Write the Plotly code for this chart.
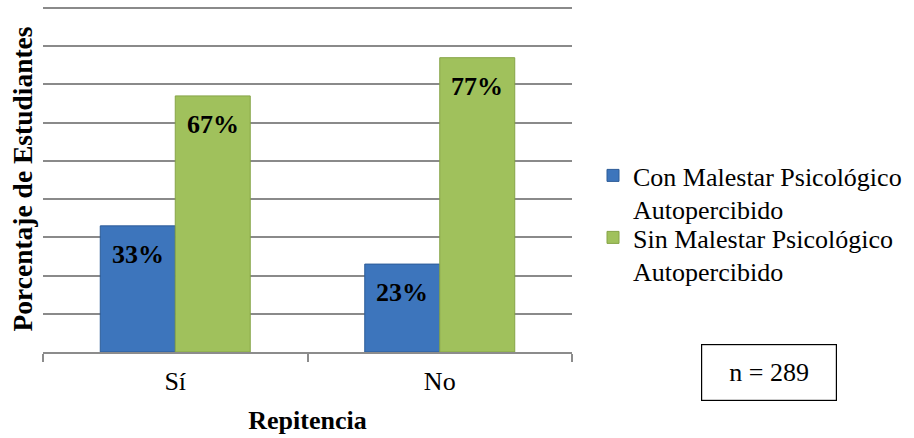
import plotly.graph_objects as go

categories = ["Sí", "No"]
con_malestar = [0.33, 0.23]
sin_malestar = [0.67, 0.77]
series_names = ["Con Malestar Psicológico<br>Autopercibido", "Sin Malestar Psicológico<br>Autopercibido"]
y_title = "Porcentaje de Estudiantes"
x_title = "Repitencia"
n_label = "n = 289"

FONT = "Liberation Serif, Times New Roman, serif"
W, H = 914, 438
ML, MR, MT, MB = 43, 342, 6, 86
plot_w = W - ML - MR
plot_h = H - MT - MB
px_per_unit = (352 - 8) / 0.9
y_top = plot_h / px_per_unit
bargap = 0.433
bar_px = (1 - bargap) * plot_w / len(categories) / 2

blue = "#3D75BC"
green = "#A0C15C"

fig = go.Figure()
fig.add_trace(go.Bar(x=categories, y=con_malestar, name=series_names[0],
                     marker=dict(color=blue, line=dict(color="#2D5C98", width=1)),
                     legend="legend"))
fig.add_trace(go.Bar(x=categories, y=sin_malestar, name=series_names[1],
                     marker=dict(color=green, line=dict(color="#86A447", width=1)),
                     legend="legend2"))

annotations = []
for vals, sign in ((con_malestar, -1), (sin_malestar, 1)):
    for c, v in zip(categories, vals):
        annotations.append(dict(x=c, y=v, xref="x", yref="y", text=f"<b>{round(v*100)}%</b>",
                                showarrow=False, xshift=sign * bar_px / 2, yanchor="top", yshift=-12,
                                font=dict(family=FONT, size=26, color="black")))
annotations.append(dict(x=(768.5 - ML) / plot_w, y=(H - MB - 372) / plot_h, xref="paper", yref="paper",
                        text=n_label, showarrow=False, width=132, height=53, borderpad=1,
                        bordercolor="black", borderwidth=1.2, xanchor="center", yanchor="middle",
                        font=dict(family=FONT, size=26, color="black")))

legend_common = dict(xref="container", yref="container", xanchor="left", yanchor="top",
                     font=dict(family=FONT, size=26, color="black"), valign="top",
                     bgcolor="rgba(0,0,0,0)", borderwidth=0, itemclick=False)

fig.update_layout(
    width=W, height=H,
    margin=dict(l=ML, r=MR, t=MT, b=MB),
    paper_bgcolor="white", plot_bgcolor="white",
    barmode="group", bargap=bargap, bargroupgap=0,
    font=dict(family=FONT, size=26, color="black"),
    showlegend=True,
    legend=dict(x=593 / W, y=1 - 152 / H, **legend_common),
    legend2=dict(x=593 / W, y=1 - 214 / H, **legend_common),
    annotations=annotations,
    xaxis=dict(showline=True, linecolor="#8C8C8C", linewidth=1.5, ticks="outside", tickson="boundaries",
               ticklen=8, tickcolor="#8C8C8C", tickwidth=1.5, ticklabelstandoff=5,
               tickfont=dict(family=FONT, size=26, color="black"),
               title=dict(text=f"<b>{x_title}</b>", font=dict(family=FONT, size=26, color="black"), standoff=16),
               automargin=False),
    yaxis=dict(range=[0, y_top], dtick=0.1, showticklabels=False, showgrid=True,
               gridcolor="#8A8A8A", gridwidth=1.6, zeroline=False, showline=False,
               title=dict(text=f"<b>{y_title}</b>", font=dict(family=FONT, size=27.5, color="black"), standoff=1),
               automargin=False),
)

fig.write_html("out.html")
